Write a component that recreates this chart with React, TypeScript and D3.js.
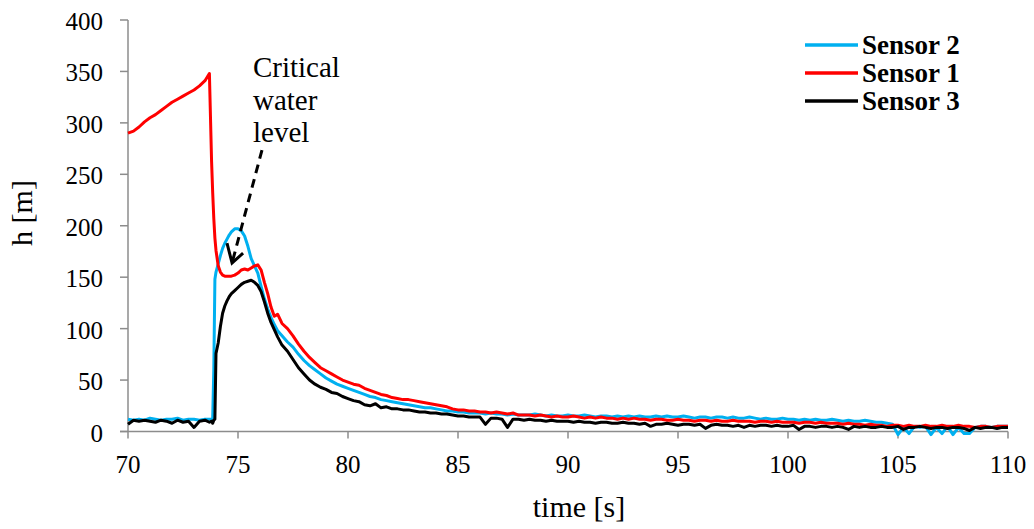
import React from 'react';
import * as d3 from 'd3';

const TIME = [
  70, 70.25, 70.5, 70.75, 71, 71.25, 71.5, 71.75, 72, 72.25, 72.5, 72.75, 73, 73.25, 73.5, 73.7,
  73.8, 73.85, 73.9, 73.95, 74, 74.1, 74.2, 74.3, 74.4, 74.5, 74.6, 74.7, 74.85, 75, 75.15, 75.3, 75.45, 75.6, 75.75, 75.9, 76.05, 76.2, 76.35, 76.5, 76.65, 76.8, 77,
  77.25, 77.5, 77.75, 78, 78.25, 78.5, 78.75, 79, 79.25, 79.5, 79.75, 80, 80.25, 80.5, 80.75, 81, 81.25, 81.5, 81.75, 82,
  82.25, 82.5, 82.75, 83, 83.25, 83.5, 83.75, 84,
  84.25, 84.5, 84.75, 85, 85.25, 85.5, 85.75, 86,
  86.25, 86.5, 86.75, 87, 87.25, 87.5, 87.75, 88,
  88.25, 88.5, 88.75, 89, 89.25, 89.5, 89.75, 90,
  90.25, 90.5, 90.75, 91, 91.25, 91.5, 91.75, 92,
  92.25, 92.5, 92.75, 93, 93.25, 93.5, 93.75, 94,
  94.25, 94.5, 94.75, 95, 95.25, 95.5, 95.75, 96,
  96.25, 96.5, 96.75, 97, 97.25, 97.5, 97.75, 98,
  98.25, 98.5, 98.75, 99, 99.25, 99.5, 99.75, 100,
  100.25, 100.5, 100.75, 101, 101.25, 101.5, 101.75, 102,
  102.25, 102.5, 102.75, 103, 103.25, 103.5, 103.75, 104,
  104.25, 104.5, 104.75, 105, 105.25, 105.5, 105.75, 106,
  106.25, 106.5, 106.75, 107, 107.25, 107.5, 107.75, 108,
  108.25, 108.5, 108.75, 109, 109.25, 109.5, 109.75, 110,
];

// Sensor 1 (red)
const SENSOR1 = [
  290, 292, 296, 301, 305, 308, 312, 316, 320, 323, 326, 329, 332, 336, 341, 348,
  262, 232, 207, 188, 176, 161, 155, 152, 151, 151, 151, 151, 152, 154, 157, 158, 157, 159, 161, 162, 157, 145, 134, 121, 112, 114, 105,
  100, 93, 85, 78, 72, 67, 62, 59, 56, 53, 50, 48, 46, 45, 42, 40, 38, 36, 35, 33,
  32, 31, 31, 30, 29, 28, 27, 26,
  25, 24, 22, 21, 21, 20, 20, 19,
  19, 18, 19, 18, 17, 18, 16, 16,
  16, 15, 16, 15, 14, 15, 14, 14,
  15, 14, 13, 14, 13, 14, 13, 13,
  12, 13, 12, 13, 12, 12, 11, 12,
  12, 11, 11, 12, 11, 11, 10, 11,
  11, 10, 11, 10, 10, 11, 10, 10,
  10, 9, 10, 10, 9, 10, 9, 9,
  9, 8, 9, 9, 8, 9, 8, 8,
  8, 7, 8, 7, 7, 6, 7, 6,
  6, 5, 6, 6, 5, 6, 5, 5,
  6, 5, 5, 6, 5, 5, 6, 5,
  5, 4, 5, 5, 4, 5, 5, 5,
];

// Sensor 2 (blue)
const SENSOR2 = [
  12, 11, 12, 11, 13, 12, 11, 12, 12, 13, 11, 12, 12, 11, 12, 12,
  12, 13, 60, 148, 155, 163, 171, 178, 183, 187, 191, 194, 197, 197, 195, 190, 180, 168, 161, 154, 141, 129, 119, 111, 104, 98, 93,
  87, 82, 75, 69, 64, 60, 56, 52, 49, 46, 44, 42, 40, 38, 36, 34, 33, 31, 30, 29,
  28, 27, 26, 25, 24, 23, 23, 22,
  21, 20, 20, 19, 19, 18, 18, 18,
  17, 18, 17, 17, 16, 17, 16, 16,
  16, 17, 16, 15, 16, 15, 15, 16,
  15, 15, 16, 15, 14, 15, 15, 14,
  15, 14, 15, 14, 15, 14, 14, 15,
  14, 15, 14, 14, 15, 14, 13, 14,
  14, 13, 14, 14, 13, 14, 13, 13,
  14, 13, 12, 13, 12, 12, 13, 12,
  12, 11, 12, 11, 12, 11, 11, 12,
  11, 10, 11, 10, 10, 11, 10, 9,
  9, 8, 7, -3, 4, -2, 5, 4,
  5, -3, 4, -2, 5, -3, 4, -2,
  -2, 4, 5, 5, 4, 5, 5, 5,
];

// Sensor 3 (black)
const SENSOR3 = [
  7, 11, 10, 11, 10, 9, 11, 10, 8, 11, 9, 10, 4, 10, 11, 9,
  10, 8, 11, 12, 76, 86, 102, 115, 122, 127, 131, 134, 137, 140, 143, 145, 146, 147, 145, 142, 136, 126, 115, 106, 99, 92, 84,
  78, 70, 62, 56, 50, 46, 43, 41, 38, 37, 34, 32, 30, 29, 26, 25, 27, 23, 24, 22,
  22, 21, 21, 20, 19, 19, 18, 18,
  17, 17, 16, 15, 15, 14, 14, 14,
  7, 13, 13, 12, 4, 12, 12, 11,
  12, 11, 11, 10, 11, 10, 10, 10,
  9, 10, 9, 9, 8, 9, 9, 8,
  8, 9, 8, 8, 7, 8, 5, 7,
  7, 8, 7, 6, 7, 7, 6, 7,
  3, 6, 7, 6, 6, 5, 6, 4,
  6, 5, 6, 6, 5, 6, 5, 5,
  6, 2, 5, 5, 4, 5, 5, 4,
  5, 4, 2, 5, 4, 5, 4, 4,
  5, 4, 4, 5, 2, 4, 4, 5,
  4, 3, 4, 4, 3, 4, 4, 3,
  1, 4, 3, 4, 4, 3, 4, 4,
];

const X_TICKS = [70, 75, 80, 85, 90, 95, 100, 105, 110];
const Y_TICKS = [0, 50, 100, 150, 200, 250, 300, 350, 400];
const LEGEND_NAMES = ['Sensor 2', 'Sensor 1', 'Sensor 3'];
const LEGEND_COLORS = ['#00B0F0', '#FF0000', '#000000'];
const ANNOTATION_LINES = ['Critical', 'water', 'level'];
const X_TITLE = 'time [s]';
const Y_TITLE = 'h [m]';

const FONT = '"Liberation Serif", "Times New Roman", Times, serif';

export default function App() {
  const W = 1034;
  const H = 529;
  const x = d3.scaleLinear().domain([70, 110]).range([128, 1008]);
  const y = d3.scaleLinear().domain([0, 400]).range([431.5, 20]);
  const axisColor = '#8c8c8c';

  const makeLine = (vals: number[]) =>
    d3
      .line<number>()
      .x((_, i) => x(TIME[i]))
      .y((v) => y(v))(vals) as string;

  const series = [
    { vals: SENSOR2, color: LEGEND_COLORS[0] },
    { vals: SENSOR1, color: LEGEND_COLORS[1] },
    { vals: SENSOR3, color: LEGEND_COLORS[2] },
  ];

  // annotation in data units
  const arrowStart = { t: 76.09, h: 273.6 };
  const arrowTip = { t: 74.73, h: 163.8 };
  const armA = { t: 74.5, h: 183 };
  const armB = { t: 75.23, h: 173.3 };
  const textT = 75.68;
  const textH = [344.6, 312.5, 281.4];

  const textStyle = { fontFamily: FONT };

  return (
    <svg
      width={W}
      height={H}
      style={{ position: 'absolute', left: 0, top: 0, background: '#fff', fontFamily: FONT }}
    >
      <rect x={0} y={0} width={W} height={H} fill="#fff" />
      {/* axes */}
      <line x1={x(70)} x2={x(70)} y1={y(400)} y2={y(0)} stroke={axisColor} strokeWidth={1.5} />
      <line x1={x(70) - 8} x2={x(110)} y1={y(0)} y2={y(0)} stroke={axisColor} strokeWidth={1.5} />
      {Y_TICKS.map((v) => (
        <g key={'y' + v}>
          <line x1={x(70) - 8} x2={x(70)} y1={y(v)} y2={y(v)} stroke={axisColor} strokeWidth={1.5} />
          <text x={103} y={y(v) + 10} textAnchor="end" fontSize={25} fill="#000" style={textStyle}>
            {v}
          </text>
        </g>
      ))}
      {X_TICKS.map((v) => (
        <g key={'x' + v}>
          <line x1={x(v)} x2={x(v)} y1={y(0)} y2={y(0) + 7} stroke={axisColor} strokeWidth={1.5} />
          <text x={x(v)} y={473} textAnchor="middle" fontSize={25} fill="#000" style={textStyle}>
            {v}
          </text>
        </g>
      ))}
      <text x={579} y={517} textAnchor="middle" fontSize={30} fill="#000" style={textStyle}>
        {X_TITLE}
      </text>
      <text
        transform={`translate(${32},${213}) rotate(-90)`}
        textAnchor="middle"
        fontSize={30}
        fill="#000"
        style={textStyle}
      >
        {Y_TITLE}
      </text>

      {/* series */}
      {series.map((s, i) => (
        <path
          key={i}
          d={makeLine(s.vals)}
          fill="none"
          stroke={s.color}
          strokeWidth={3}
          strokeLinejoin="round"
        />
      ))}

      {/* annotation */}
      <line
        x1={x(arrowStart.t)}
        y1={y(arrowStart.h)}
        x2={x(arrowTip.t)}
        y2={y(arrowTip.h)}
        stroke="#000"
        strokeWidth={3}
        strokeDasharray="9,6"
      />
      <polyline
        points={`${x(armA.t)},${y(armA.h)} ${x(arrowTip.t)},${y(arrowTip.h)} ${x(armB.t)},${y(armB.h)}`}
        fill="none"
        stroke="#000"
        strokeWidth={3}
      />
      {ANNOTATION_LINES.map((s, i) => (
        <text key={s} x={x(textT)} y={y(textH[i])} fontSize={29} fill="#000" style={textStyle}>
          {s}
        </text>
      ))}

      {/* legend */}
      {LEGEND_NAMES.map((name, i) => (
        <g key={name}>
          <line x1={805} x2={858} y1={45 + i * 28} y2={45 + i * 28} stroke={LEGEND_COLORS[i]} strokeWidth={3.5} />
          <text x={862} y={54 + i * 28} fontSize={27} fontWeight="bold" fill="#000" style={textStyle}>
            {name}
          </text>
        </g>
      ))}
    </svg>
  );
}
